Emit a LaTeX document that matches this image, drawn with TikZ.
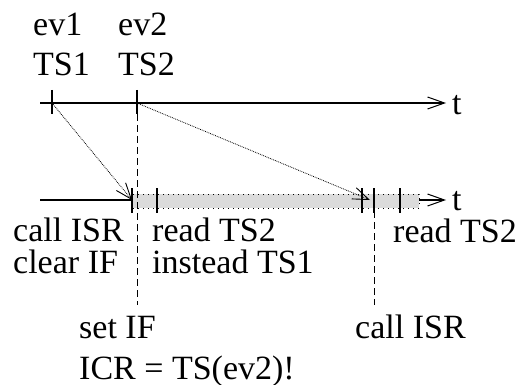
\documentclass[tikz,border=0pt]{standalone}
\usepackage{fontspec}
\setmainfont{Liberation Serif}
\usetikzlibrary{arrows.meta, positioning}

\tikzset{
    lbl/.style={anchor=base west, inner sep=0pt, font=\fontsize{34}{40}\selectfont},
    axis/.style={line width=1.1pt, -{Straight Barb[length=17pt, width=12pt, line width=1pt]}},
    tick/.style={line width=1.5pt},
    msg/.style={densely dotted, line width=0.8pt, -{Straight Barb[length=16pt, width=12pt, line width=0.9pt, sep=0pt]}},
    guide/.style={line width=1pt, dash pattern=on 7pt off 4pt},
    busy/.style={fill=black!14, draw=black, dash pattern=on 1pt off 4pt, line width=0.8pt}
}

\begin{document}
\begin{tikzpicture}[x=1pt, y=-1pt]
    \useasboundingbox (0,0) rectangle (522,385);

    % the two time lines
    \coordinate (top0) at (40,103);
    \coordinate (top1) at (446,103);
    \coordinate (bot0) at (40,200);
    \coordinate (bot1) at (446,200);
    \draw[axis] (top0) -- (top1);
    \draw[axis] (bot0) -- (bot1);
    \node[lbl, text depth=0pt] (ttop) at (452,115) {t};
    \node[lbl, text depth=0pt] (tbot) at (452,210) {t};

    % ISR running
    \draw[busy] (132,194) rectangle (419,208);

    \coordinate (ev1) at (52,103);
    \coordinate (ev2) at (137,103);
    \coordinate (isr1) at (132,200);
    \coordinate (isr2) at (374,200);
    \foreach \x in {52,137}
        \draw[tick] (\x,90) -- (\x,114);
    \foreach \x in {132,157,362,374,400}
        \draw[tick] (\x,188) -- (\x,213);

    \coordinate (setif) at (137,305);
    \coordinate (call2) at (374,305);
    \draw[guide] (ev2) -- (setif);
    \draw[guide] (isr2) -- (call2);

    \draw[msg] (ev1) -- (isr1);
    \draw[msg] (ev2) -- (370,200);

    \node[lbl] (e1) at (33,36) {ev1};
    \node[lbl] (ts1) at (33,76) {TS1};
    \node[lbl] (e2) at (118,36) {ev2};
    \node[lbl] (ts2) at (118,76) {TS2};

    \node[lbl] (callisr) at (13,241) {call ISR};
    \node[lbl] (clrif) at (13,273) {clear IF};
    \node[lbl] (rd1) at (152,241) {read TS2};
    \node[lbl] (inst) at (152,273) {instead TS1};
    \node[lbl] (rd2) at (393,242) {read TS2};
    \node[lbl] (setlbl) at (79,338) {set IF};
    \node[lbl] (icr) at (79,379) {ICR = TS(ev2)!};
    \node[lbl] (callisr2) at (355,338) {call ISR};
\end{tikzpicture}
\end{document}
